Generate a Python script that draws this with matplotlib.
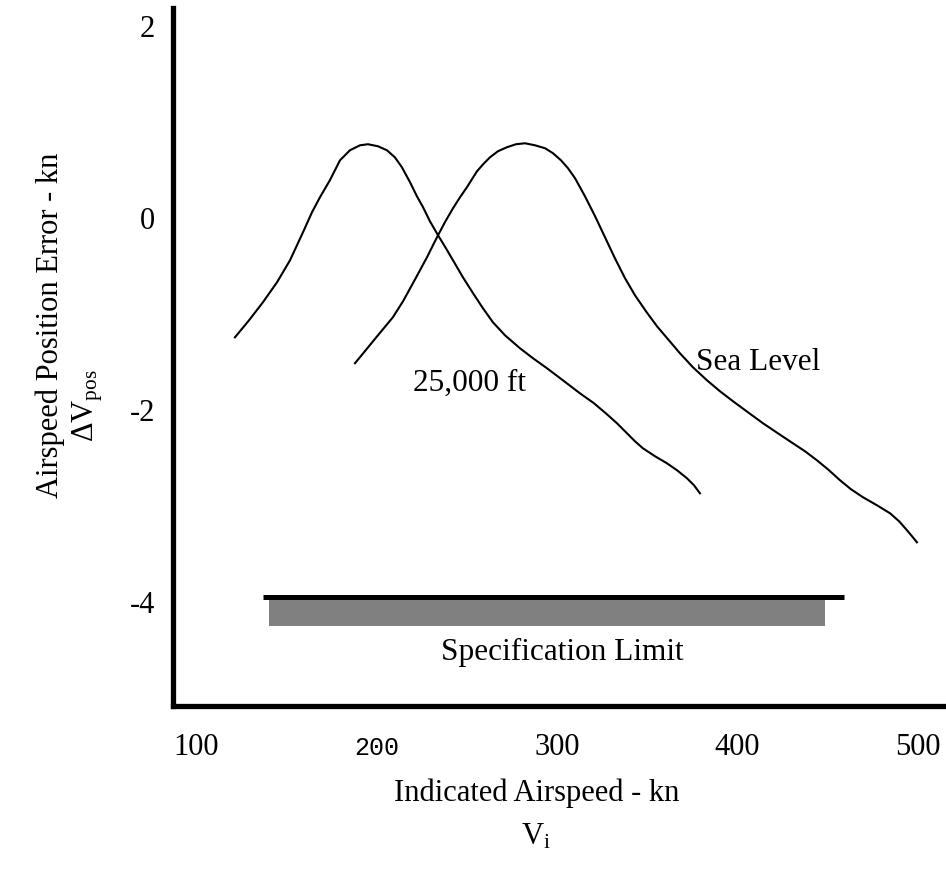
import numpy as np
import matplotlib.pyplot as plt

plt.rcParams['font.family'] = 'Liberation Serif'
plt.rcParams['mathtext.fontset'] = 'stix'

# curve at 25,000 ft
alt25_x = [121.6, 129.4, 137.1, 144.9, 152.1, 159.3, 164.3, 168.7, 174.2, 179.8,
           185.3, 190.9, 195.3, 200.8, 205.8, 210.2, 214.1, 218.6, 222.4, 225.8,
           229.6, 234.1, 238.5, 242.4, 247.9, 253.5, 259.0, 264.5, 271.2, 279.5,
           286.7, 294.5, 303.3, 312.7, 320.5, 327.7, 333.2, 338.8, 343.2, 347.6,
           354.3, 360.9, 366.5, 372.0, 375.9, 379.2]
alt25_y = [-1.240, -1.063, -0.875, -0.667, -0.438, -0.146, 0.063, 0.219, 0.396, 0.604,
           0.708, 0.760, 0.771, 0.750, 0.708, 0.635, 0.531, 0.375, 0.229, 0.115,
           -0.031, -0.177, -0.313, -0.438, -0.615, -0.781, -0.938, -1.083, -1.219, -1.354,
           -1.458, -1.563, -1.688, -1.823, -1.927, -2.042, -2.135, -2.240, -2.323, -2.396,
           -2.479, -2.552, -2.625, -2.708, -2.781, -2.865]

# sea level curve
sea_x = [188.1, 193.1, 198.1, 203.6, 209.1, 214.7, 220.2, 224.1, 228.0, 231.3,
         234.1, 237.9, 242.4, 246.3, 250.1, 255.7, 259.6, 262.9, 267.3, 272.3,
         277.3, 282.3, 287.8, 293.4, 297.8, 302.2, 306.1, 310.0, 315.5, 321.1,
         326.6, 332.1, 337.7, 343.2, 349.3, 355.4, 361.5, 368.1, 375.3, 383.1,
         390.3, 397.5, 405.8, 414.1, 422.4, 430.7, 437.4, 444.0, 450.1, 456.8,
         462.9, 469.5, 477.3, 484.5, 489.5, 493.9, 496.7, 499.4]
sea_y = [-1.510, -1.396, -1.281, -1.156, -1.031, -0.865, -0.677, -0.542, -0.406, -0.281,
         -0.177, -0.042, 0.104, 0.219, 0.323, 0.490, 0.573, 0.635, 0.698, 0.740,
         0.771, 0.781, 0.760, 0.729, 0.677, 0.604, 0.521, 0.417, 0.229, 0.021,
         -0.198, -0.417, -0.625, -0.802, -0.969, -1.125, -1.260, -1.406, -1.552, -1.688,
         -1.802, -1.906, -2.021, -2.135, -2.240, -2.344, -2.427, -2.521, -2.615, -2.729,
         -2.823, -2.906, -2.990, -3.073, -3.156, -3.250, -3.313, -3.375]

x_ticks = [100, 200, 300, 400, 500]
y_ticks = [2, 0, -2, -4]

spec_line_x = [137, 459]
spec_line_y = -3.95
spec_band_x = [140.4, 448.5]
spec_band_y = [-4.25, -3.98]

fig = plt.figure(figsize=(9.46, 8.69), dpi=100)
ax = fig.add_axes([0.1829, 0.1876, 0.8171, 0.8032])

ax.plot(alt25_x, alt25_y, color='black', lw=1.5, solid_joinstyle='round')
ax.plot(sea_x, sea_y, color='black', lw=1.5, solid_joinstyle='round')

ax.barh((spec_band_y[0] + spec_band_y[1]) / 2, spec_band_x[1] - spec_band_x[0],
        height=spec_band_y[1] - spec_band_y[0], left=spec_band_x[0], color='#808080')
ax.hlines(spec_line_y, spec_line_x[0], spec_line_x[1], color='black', lw=3.6)

ax.text(220.5, -1.72, '25,000 ft', fontsize=22.5, va='center')
ax.text(377, -1.5, 'Sea Level', fontsize=22.5, va='center')
ax.text(303, -4.52, 'Specification Limit', fontsize=22.5, va='center', ha='center')

ax.set_xlim(87.3, 515.5)
ax.set_ylim(-5.08, 2.19)

for side in ['top', 'right']:
    ax.spines[side].set_visible(False)
for side in ['left', 'bottom']:
    ax.spines[side].set_linewidth(3.8)

ax.set_yticks(y_ticks)
ax.set_yticklabels([str(v) for v in y_ticks])
ax.set_xticks(x_ticks)
ax.set_xticklabels([str(v) for v in x_ticks])
ax.tick_params(axis='both', length=0, labelsize=22)
ax.tick_params(axis='y', pad=13)
ax.tick_params(axis='x', pad=35)
for lab in ax.get_xticklabels():
    lab.set_verticalalignment('baseline')
    if lab.get_text() == '200':
        lab.set_family('Liberation Mono')
        lab.set_fontsize(18)

ax.set_xlabel('Indicated Airspeed - kn', fontsize=22, va='center')
ax.xaxis.set_label_coords(0.470, -0.125)
ax.text(0.470, -0.187, r'$\mathregular{V_i}$', fontsize=22, ha='center', va='center',
        transform=ax.transAxes)

ax.set_ylabel('Airspeed Position Error - kn', fontsize=22, va='center')
ax.yaxis.set_label_coords(-0.159, 0.546)
ax.text(-0.111, 0.431, r'$\mathregular{\Delta V_{pos}}$', fontsize=22, rotation=90,
        ha='center', va='center', transform=ax.transAxes)

fig.savefig('out.png', dpi=100)
